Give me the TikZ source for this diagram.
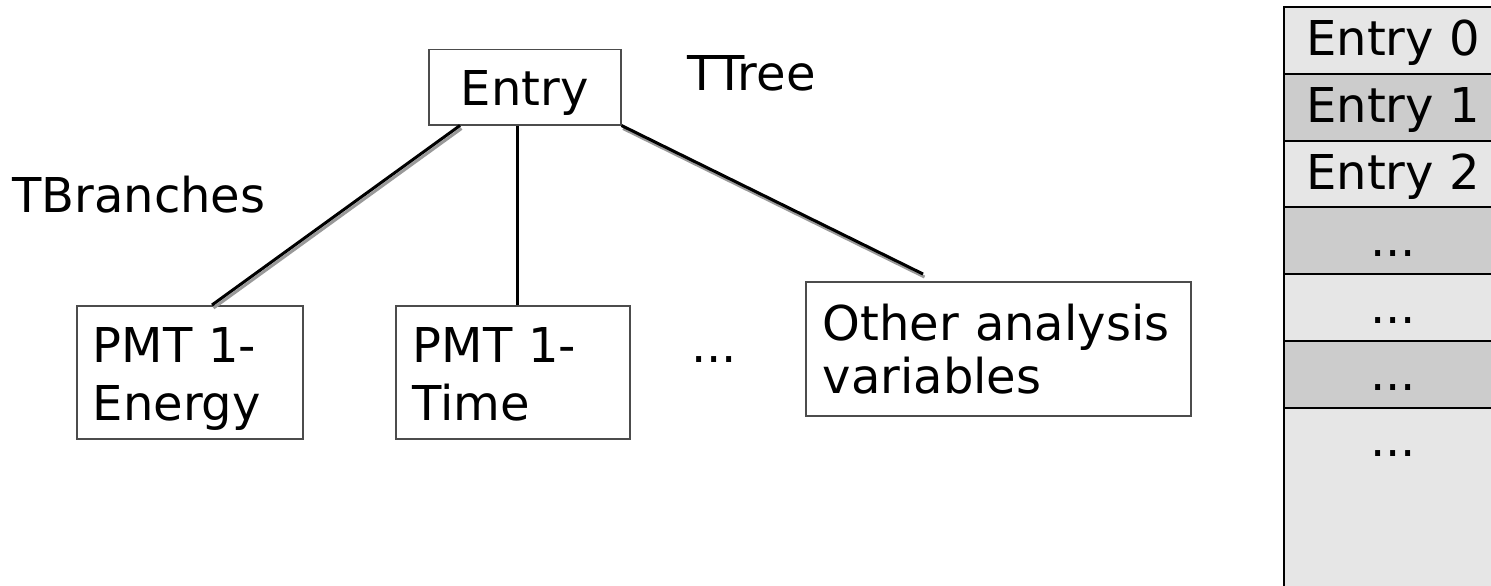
\documentclass[tikz,border=0pt]{standalone}
\usepackage{fontspec}
\setmainfont{DejaVu Sans}
\usetikzlibrary{calc}
\definecolor{rowlight}{HTML}{E6E6E6}
\definecolor{rowdark}{HTML}{CCCCCC}
\newcommand\moredots{...}
\tikzset{
  box/.style={draw=black!70, line width=1.5pt, inner ysep=0pt, align=left},
  branch/.style={line width=3pt, preaction={draw=black!40, line width=3pt, transform canvas={shift={(1.5pt,-3pt)}}}},
  cell/.style={draw, line width=2pt, minimum width=218pt, inner ysep=0pt, text height=49pt, anchor=north west},
}
\begin{document}
\begin{tikzpicture}[x=1pt,y=-1pt,font=\fontsize{48}{58}\selectfont]
\useasboundingbox (0,0) rectangle (1491,586);
\node[box, minimum width=192pt, text height=56pt, text depth=19pt, anchor=north west] (entry) at (428,49) {Entry};
\node[anchor=base west, inner sep=0pt] (ttree) at (687,90) {TTree};
\node[anchor=base west, inner sep=0pt] (tbranches) at (12,212) {TBranches};
\node[box, anchor=north west, text width=194pt, inner xsep=16pt, text height=57pt, text depth=76pt] (energy) at (76,305) {PMT 1-\\Energy};
\node[box, anchor=north west, text width=200pt, inner xsep=17pt, text height=57pt, text depth=76pt] (time) at (395,305) {PMT 1-\\Time};
\node[anchor=base] (dots) at (714,362) {\moredots};
\node[box, anchor=north west, text width=351pt, inner xsep=17pt, text height=59pt, text depth=75pt, font=\fontsize{48}{53}\selectfont] (other) at (805,281) {Other analysis\\variables};
\coordinate (otherend) at (923,274);
\draw[branch] ($(entry.south west)+(32,0)$) -- ($(energy.north west)+(136,0)$);
\draw[line width=3pt] ($(entry.south west)+(89,0)$) -- ($(time.north west)+(122,0)$);
\draw[branch] (entry.south east) -- (otherend);
\foreach \i/\lbl/\shade in {0/Entry 0/rowlight,1/Entry 1/rowdark,2/Entry 2/rowlight,3/\moredots/rowdark,4/\moredots/rowlight,5/\moredots/rowdark}
  \node[cell, fill=\shade, text depth=17.8pt] (row\i) at (1283,{6+66.8*\i}) {\lbl};
\node[cell, fill=rowlight, text depth=144pt] (row6) at (1283,406.8) {\moredots};
\end{tikzpicture}
\end{document}
